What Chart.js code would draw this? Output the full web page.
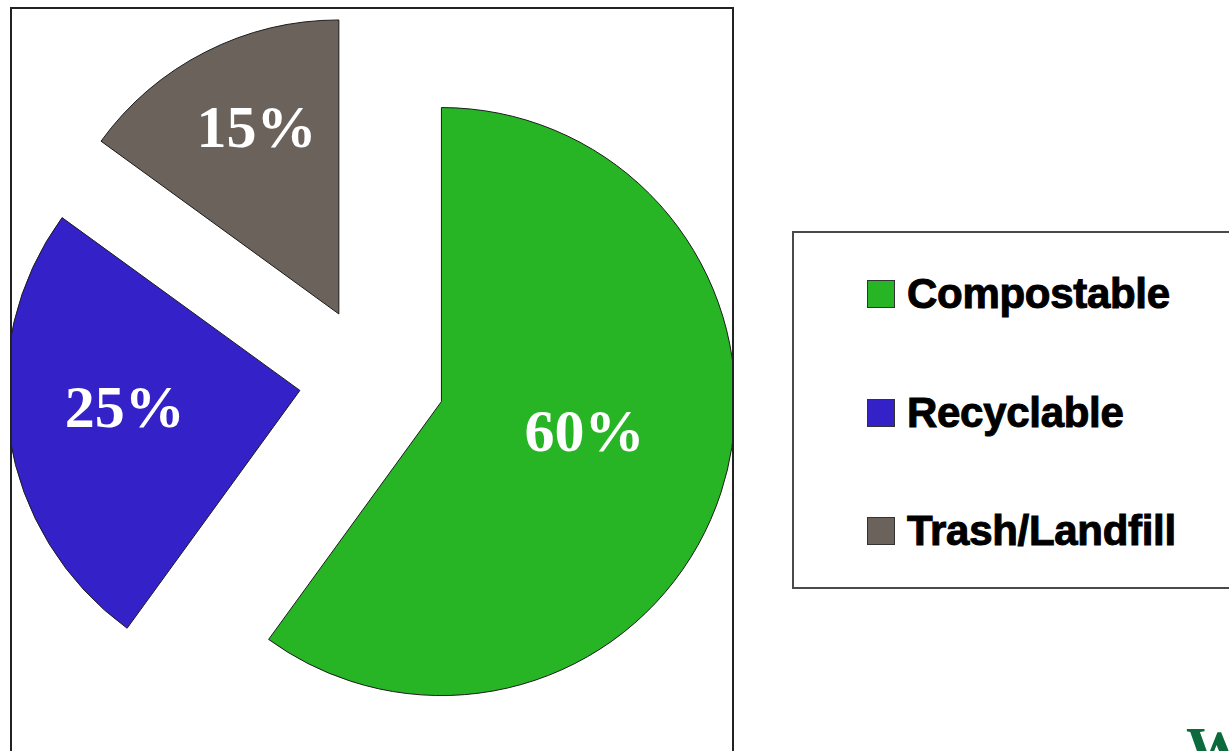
<!DOCTYPE html>
<html>
<head>
<meta charset="utf-8">
<script src="https://cdn.jsdelivr.net/npm/chart.js@4.4.0/dist/chart.umd.min.js"></script>
<style>
    html, body { margin: 0; padding: 0; background: #fff; width: 1229px; height: 751px; overflow: hidden; }
    .pie-box {
        position: absolute; left: 10px; top: 7px; width: 720px; height: 800px;
        border: 2px solid #222; overflow: hidden;
    }
    .chart-wrap { position: absolute; left: -12px; top: -9px; width: 744px; height: 758px; }
    .legend-box {
        position: absolute; left: 792px; top: 231px; width: 460px; height: 354px;
        border: 2px solid #4a4a4a;
    }
    .legend-item { position: absolute; left: 73px; height: 28px; display: flex; align-items: center; }
    .legend-item .swatch { width: 26px; height: 26px; border: 1px solid #333; }
    .legend-item .text {
        margin-left: 12px; font-family: "Liberation Sans", Arial, sans-serif; font-weight: bold;
        font-size: 42px; line-height: 28px; color: #000; letter-spacing: -0.3px;
        -webkit-text-stroke: 1px #000;
    }
    .corner-w {
        position: absolute; left: 1186px; top: 718px; font-family: "Liberation Serif", serif;
        font-weight: bold; font-size: 60px; line-height: 60px; color: #0d6a3c;
    }
</style>
</head>
<body>
<div class="pie-box"><div class="chart-wrap"><canvas id="pieChart"></canvas></div></div>
<div class="legend-box" id="legend"></div>
<div class="corner-w">W</div>
<script>
        // Chart data
        const categories = ['Compostable', 'Recyclable', 'Trash/Landfill'];
        const shares = [60, 25, 15];
        const sliceColors = ['#27b526', '#3421c8', '#6a625b'];

        // Pull every slice out from the centre and write the percent labels
        const explodePlugin = {
            id: 'explode',
            beforeDatasetDraw(chart, args, opts) {
                const ctx = chart.ctx;
                args.meta.data.forEach(arc => {
                    const mid = (arc.startAngle + arc.endAngle) / 2;
                    ctx.save();
                    ctx.translate(Math.cos(mid) * opts.distance, Math.sin(mid) * opts.distance);
                    arc.draw(ctx);
                    ctx.restore();
                });
                return false;
            },
            afterDatasetsDraw(chart, args, opts) {
                const ctx = chart.ctx;
                const meta = chart.getDatasetMeta(0);
                ctx.save();
                ctx.font = 'bold 60px "Liberation Serif", "Times New Roman", serif';
                ctx.fillStyle = '#ffffff';
                ctx.textAlign = 'center';
                ctx.textBaseline = 'middle';
                meta.data.forEach((arc, i) => {
                    const mid = (arc.startAngle + arc.endAngle) / 2;
                    const cx = arc.x + Math.cos(mid) * opts.distance;
                    const cy = arc.y + Math.sin(mid) * opts.distance;
                    const a = mid + opts.labelShift[i] * Math.PI / 180;
                    const r = arc.outerRadius * opts.labelRadius[i];
                    ctx.fillText(shares[i] + '%', cx + Math.cos(a) * r, cy + Math.sin(a) * r);
                });
                ctx.restore();
            }
        };

        function initPieChart() {
            const ctx = document.getElementById('pieChart').getContext('2d');
            new Chart(ctx, {
                type: 'pie',
                data: {
                    labels: categories,
                    datasets: [{
                        data: shares,
                        backgroundColor: sliceColors,
                        borderColor: '#1c1c1c',
                        borderWidth: 1,
                        offset: 0,
                        hoverOffset: 0
                    }]
                },
                options: {
                    responsive: true,
                    maintainAspectRatio: false,
                    animation: false,
                    radius: 294,
                    layout: { padding: 0 },
                    events: [],
                    plugins: {
                        legend: { display: false },
                        tooltip: { enabled: false },
                        explode: {
                            distance: 73,
                            labelRadius: [0.50, 0.60, 0.68],
                            labelShift: [-4.7, 2, 2.7]
                        }
                    }
                },
                plugins: [explodePlugin]
            });
        }

        // Legend built from the same arrays
        function buildLegend() {
            const box = document.getElementById('legend');
            categories.forEach((name, i) => {
                const item = document.createElement('div');
                item.className = 'legend-item';
                item.style.top = (47 + i * 118.5) + 'px';
                item.innerHTML = `<div class="swatch" style="background:${sliceColors[i]}"></div><span class="text">${name}</span>`;
                box.appendChild(item);
            });
        }

        buildLegend();
        initPieChart();
</script>
</body>
</html>
